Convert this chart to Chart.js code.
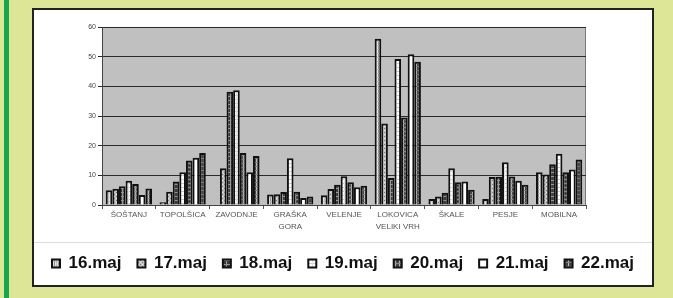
<!DOCTYPE html>
<html lang="sl">
  <head>
    <meta charset="UTF-8" />
    <title>Meritve po lokacijah</title>
    <script src="https://cdn.jsdelivr.net/npm/chart.js"></script>
    <style>
      body {
        margin: 0;
        background-color: #dde697;
        width: 673px;
        height: 298px;
        position: relative;
        overflow: hidden;
      }
      #stripe {
        position: absolute;
        left: 4px;
        top: 0;
        width: 5px;
        height: 298px;
        background-color: #13a84b;
      }
      #panel {
        position: absolute;
        left: 32px;
        top: 8px;
        width: 618px;
        height: 275px;
        background-color: #fff;
        border: 2px solid #222;
      }
      #sep {
        position: absolute;
        left: 0;
        top: 232px;
        width: 618px;
        height: 1px;
        background-color: #dcdcdc;
      }
      canvas {
        position: absolute;
        left: 0;
        top: 0;
      }
    </style>
  </head>
  <body>
    <div id="stripe"></div>
    <div id="panel">
      <canvas id="chart" width="618" height="275"></canvas>
      <div id="sep"></div>
    </div>

    <script>
      const locations = [
        ["ŠOŠTANJ"],
        ["TOPOLŠICA"],
        ["ZAVODNJE"],
        ["GRAŠKA", "GORA"],
        ["VELENJE"],
        ["LOKOVICA", "VELIKI VRH"],
        ["ŠKALE"],
        ["PESJE"],
        ["MOBILNA"],
      ];
      const days = ["16.maj", "17.maj", "18.maj", "19.maj", "20.maj", "21.maj", "22.maj"];

      const maj16 = [5.0, 0.9, 0.2, 3.5, 3.3, 56.0, 2.0, 2.0, 11.0];
      const maj17 = [5.5, 4.5, 12.4, 3.6, 5.4, 27.5, 2.9, 9.4, 10.3];
      const maj18 = [6.3, 7.9, 38.2, 4.4, 6.8, 9.1, 4.1, 9.5, 13.7];
      const maj19 = [8.2, 11.0, 38.7, 15.8, 9.7, 49.2, 12.4, 14.4, 17.3];
      const maj20 = [7.1, 15.0, 17.5, 4.5, 7.7, 29.5, 7.7, 9.6, 11.0];
      const maj21 = [3.4, 15.9, 11.0, 2.4, 6.0, 50.8, 7.9, 8.2, 12.0];
      const maj22 = [5.6, 17.5, 16.5, 2.9, 6.5, 48.3, 5.1, 6.8, 15.3];

      const yTicks = [0, 10, 20, 30, 40, 50, 60];

      // small tiled fills, like the old excel patterns
      function pattern(bg, draw) {
        const c = document.createElement("canvas");
        c.width = 4;
        c.height = 4;
        const g = c.getContext("2d");
        g.fillStyle = bg;
        g.fillRect(0, 0, 4, 4);
        draw(g);
        return g.createPattern(c, "repeat");
      }

      const fills = [
        pattern("#ececec", (g) => {
          g.fillStyle = "#8c8c8c";
          g.fillRect(0, 0, 1, 4);
          g.fillStyle = "#bdbdbd";
          g.fillRect(2, 0, 1, 4);
          g.fillRect(0, 3, 4, 1);
        }),
        pattern("#c4c4c4", (g) => {
          g.fillStyle = "#7a7a7a";
          g.fillRect(0, 0, 1, 1);
          g.fillRect(2, 2, 1, 1);
          g.fillStyle = "#e6e6e6";
          g.fillRect(2, 0, 1, 1);
          g.fillRect(0, 2, 1, 1);
        }),
        pattern("#383838", (g) => {
          g.fillStyle = "#9a9a9a";
          g.fillRect(0, 0, 1, 4);
          g.fillRect(0, 2, 4, 1);
        }),
        pattern("#ffffff", (g) => {
          g.fillStyle = "#cfcfcf";
          g.fillRect(0, 1, 4, 1);
          g.fillStyle = "#e2e2e2";
          g.fillRect(2, 0, 1, 4);
        }),
        pattern("#505050", (g) => {
          g.fillStyle = "#b0b0b0";
          g.fillRect(1, 0, 1, 4);
          g.fillStyle = "#8a8a8a";
          g.fillRect(0, 1, 4, 1);
          g.fillStyle = "#202020";
          g.fillRect(3, 3, 1, 1);
        }),
        "#ffffff",
        pattern("#444444", (g) => {
          g.fillStyle = "#c0c0c0";
          g.fillRect(2, 0, 1, 4);
          g.fillStyle = "#7c7c7c";
          g.fillRect(0, 0, 4, 1);
        }),
      ];

      const series = [maj16, maj17, maj18, maj19, maj20, maj21, maj22];

      const plotBackground = {
        id: "plotBackground",
        beforeDraw(chart) {
          const { ctx, chartArea: a } = chart;
          ctx.save();
          ctx.fillStyle = "#c0c0c0";
          ctx.fillRect(a.left, a.top, a.right - a.left, a.bottom - a.top);
          ctx.strokeStyle = "#777";
          ctx.lineWidth = 1;
          ctx.strokeRect(a.left + 0.5, a.top + 0.5, a.right - a.left - 1, a.bottom - a.top);
          ctx.restore();
        },
      };

      const ctx = document.getElementById("chart").getContext("2d");

      new Chart(ctx, {
        type: "bar",
        data: {
          labels: locations,
          datasets: series.map((values, i) => ({
            label: days[i],
            data: values,
            backgroundColor: fills[i],
            borderColor: "#111",
            borderWidth: 2,
            borderSkipped: "bottom",
            categoryPercentage: 0.86,
            barPercentage: 1.0,
          })),
        },
        plugins: [plotBackground],
        options: {
          responsive: false,
          animation: false,
          layout: {
            padding: { left: 0, right: 0, top: 17, bottom: 3 },
          },
          scales: {
            x: {
              grid: {
                offset: true,
                drawOnChartArea: false,
                tickLength: 4,
                color: "#555",
              },
              border: { color: "#444" },
              ticks: {
                color: "#555",
                font: { family: "Liberation Sans", size: 8, lineHeight: 1.6 },
                maxRotation: 0,
                autoSkip: false,
                padding: -1,
              },
              afterFit(scale) {
                scale.height = 34;
              },
            },
            y: {
              min: 0,
              max: 60,
              afterBuildTicks(scale) {
                scale.ticks = yTicks.map((v) => ({ value: v }));
              },
              grid: {
                color: "#2a2a2a",
                tickLength: 4,
              },
              border: { color: "#444" },
              ticks: {
                color: "#444",
                font: { family: "Liberation Sans", size: 7 },
                padding: 2,
              },
              afterFit(scale) {
                scale.width = 68;
              },
            },
            // empty axis that keeps the white margin right of the plot
            yRight: {
              position: "right",
              min: 0,
              max: 60,
              grid: { display: false },
              border: { display: false },
              ticks: { display: false },
              afterFit(scale) {
                scale.width = 66;
              },
            },
          },
          plugins: {
            tooltip: { enabled: false },
            legend: {
              position: "bottom",
              labels: {
                boxWidth: 8,
                boxHeight: 8,
                padding: 16,
                color: "#111",
                font: { family: "Liberation Sans", size: 17, weight: "bold" },
              },
            },
          },
        },
      });
    </script>
  </body>
</html>
